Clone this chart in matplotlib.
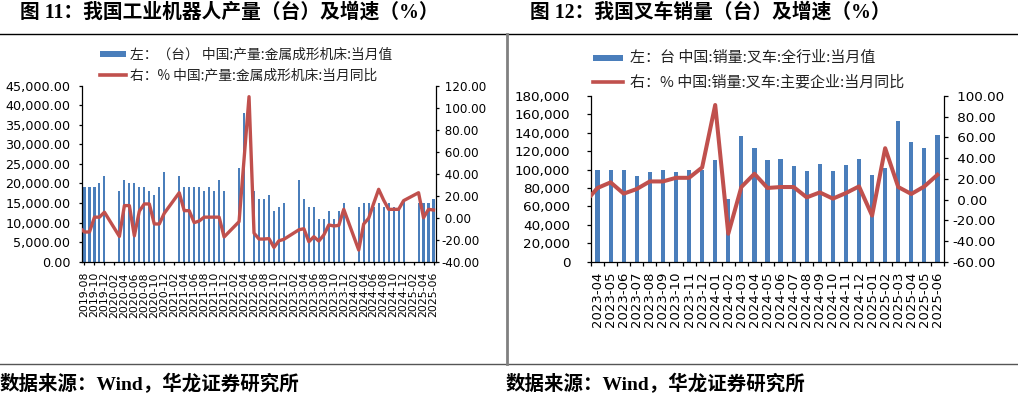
import matplotlib
matplotlib.use("Agg")
import matplotlib.pyplot as plt
import numpy as np
import pandas as pd
from matplotlib.lines import Line2D
from matplotlib.patches import Rectangle
from matplotlib.ticker import FuncFormatter

plt.rcParams['font.family'] = ['DejaVu Sans', 'Noto Sans CJK SC']
plt.rcParams['axes.unicode_minus'] = False

nan = np.nan

# ---- 图 11: metal forming machine tools, 2019-08 .. 2025-06
forming_months = [str(p) for p in pd.period_range("2019-08", "2025-06", freq="M")]
forming_units = [
    19000, 19000, 19000, 20000, 22000,
    nan, nan, 18000, 21000, 20000, 20000, 19000, 19000, 18000, 17000, 19000, 23000,
    nan, nan, 22000, 19000, 19000, 19000, 19000, 18000, 19000, 18000, 21000, 18000,
    nan, nan, 24000, 38000, nan, 18000, 16000, 16000, 17000, 13000, 14000, 15000,
    nan, nan, 21000, 16000, 14000, 14000, 11000, 11000, 13000, 11000, 13000, 15000,
    nan, nan, 14000, 15000, 15000, 14000, 15000, 14000, 15000, 14000, 14000, 16000,
    nan, nan, 15000, 15000, 15000, 16000,
]
# YoY series starts one month earlier (2019-07); that point sits outside the axis
forming_yoy = [
    -9, -13, -13, 0.5, 0.5, 5,
    nan, nan, -17, 11, 11, -16.5, 6, 12.5, 12.5, -5.7, -5.7, 4,
    nan, nan, 22.7, 6.4, 6.4, -4.5, -3, 0.5, 0.5, 0.5, 0.5, -17.5,
    nan, nan, -3.6, 53, 110, -14, -19.4, -19.4, -19, -27, -21, -19.6,
    nan, nan, -11, -10, -21.8, -17.3, -21.2, -15.7, -6.6, -7.5, -7, 7.6,
    nan, nan, -29.4, -5.7, -0.5, 13, 25.8, 16, 7.6, 7.6, 7.6, 15.5,
    nan, nan, 22.7, 0, 7.6, 7,
]

# ---- 图 12: forklift sales, 2023-04 .. 2025-06
forklift_months = [str(p) for p in pd.period_range("2023-04", "2025-06", freq="M")]
forklift_sales = [
    100000, 100000, 100000, 92700, 97700, 100000, 97700, 100000, 100000,
    110800, 68000, 136800, 123800, 110400, 111500, 103900, 98800, 106100,
    98800, 105000, 111500, 93800, 101400, 152800, 130300, 123500, 137600,
]
# YoY series starts at 2023-03 (clipped by the axis)
forklift_yoy = [
    -3.2, 11.2, 16.6, 5.7, 10.2, 17.5, 17.5, 21, 21, 31,
    91.3, -33, 12.1, 24.9, 11.2, 12.1, 12.1, 2.1, 6.9, 0.9,
    6.3, 12.7, -15.5, 49.6, 12.1, 5.4, 12.7, 23.9,
]

BLUE = "#4A7EBB"
RED = "#C0504D"
CJK = ['Noto Sans CJK SC', 'DejaVu Sans']
TITLE_FONT = ['Liberation Serif', 'Noto Sans CJK SC']

W, H = 1018, 396
fig = plt.figure(figsize=(W / 100, H / 100), dpi=100)


def px_axes(x0, y0, x1, y1):
    return fig.add_axes([x0 / W, 1 - y1 / H, (x1 - x0) / W, (y1 - y0) / H])


def fx(x):
    return x / W


def fy(y):
    return 1 - y / H


def signed_fmt(v, _pos=None):
    s = f"{v:.2f}"
    return s if v < 0 else " " + s


def style_pair(ax, axr):
    for side in ("top", "right"):
        ax.spines[side].set_visible(False)
    for side in ("top", "left", "bottom"):
        axr.spines[side].set_visible(False)
    for a in (ax, axr):
        for sp in a.spines.values():
            sp.set_linewidth(0.9)
            sp.set_color("black")


def legend_block(x_handle, x_text, y_bar, y_line, label_bar, label_line, size, hw):
    fig.add_artist(Rectangle((fx(x_handle), fy(y_bar + 3)), hw / W, 6 / H,
                             transform=fig.transFigure, color=BLUE, lw=0))
    fig.add_artist(Line2D([fx(x_handle), fx(x_handle + hw)], [fy(y_line)] * 2,
                          transform=fig.transFigure, color=RED, lw=2.6))
    fig.text(fx(x_text), fy(y_bar), label_bar, va="center", ha="left",
             fontsize=size, family=CJK, color="#222222")
    fig.text(fx(x_text), fy(y_line), label_line, va="center", ha="left",
             fontsize=size, family=CJK, color="#222222")


# ================= left chart =================
ax1 = px_axes(82, 85.7, 436, 261.7)
x1 = np.arange(len(forming_months))
ax1.bar(x1, forming_units, width=0.42, color=BLUE, zorder=2)
ax1.set_xlim(-0.5, len(forming_months) - 0.5)
ax1.set_ylim(0, 45000)
ax1.set_yticks(np.arange(0, 45001, 5000))
ax1.yaxis.set_major_formatter(FuncFormatter(lambda v, p: f"{v:,.2f}"))
ax1.tick_params(axis="y", direction="out", length=2.5, width=0.9, pad=6, labelsize=9.2)
ax1.set_xticks(x1[::2])
ax1.set_xticklabels(forming_months[::2], rotation=90, fontsize=7.8)
ax1.tick_params(axis="x", direction="out", length=2.5, width=0.9, pad=5)

ax1r = ax1.twinx()
yoy1 = np.array(forming_yoy, dtype=float)
xl1 = np.arange(-1, len(forming_months))
ok = ~np.isnan(yoy1)
ax1r.plot(xl1[ok], yoy1[ok], color=RED, lw=2.4, solid_joinstyle="round", zorder=3)
ax1r.set_ylim(-40, 120)
ax1r.set_yticks(np.arange(-40, 121, 20))
ax1r.yaxis.set_major_formatter(FuncFormatter(signed_fmt))
ax1r.tick_params(axis="y", direction="out", length=2.5, width=0.9, pad=1.2, labelsize=8.6)
style_pair(ax1, ax1r)

legend_block(100, 130, 54, 75,
             "左：（台） 中国:产量:金属成形机床:当月值",
             "右：% 中国:产量:金属成形机床:当月同比", 9.9, 26)

# ================= right chart =================
ax2 = px_axes(591, 96, 944, 261.7)
x2 = np.arange(len(forklift_months))
ax2.bar(x2, forklift_sales, width=0.32, color=BLUE, zorder=2)
ax2.set_xlim(-0.5, len(forklift_months) - 0.5)
ax2.set_ylim(0, 180000)
ax2.set_yticks(np.arange(0, 180001, 20000))
ax2.yaxis.set_major_formatter(FuncFormatter(lambda v, p: f"{v:,.0f}"))
ax2.tick_params(axis="y", direction="out", length=3, width=0.9, pad=12, labelsize=9.7)
ax2.set_xticks(x2)
ax2.set_xticklabels(forklift_months, rotation=90, fontsize=9.5)
ax2.set_xticks(np.arange(-0.5, len(forklift_months)), minor=True)
ax2.tick_params(axis="x", which="major", length=0, pad=7)
ax2.tick_params(axis="x", which="minor", direction="out", length=3, width=0.9)

ax2r = ax2.twinx()
yoy2 = np.array(forklift_yoy, dtype=float)
xl2 = np.arange(-1, len(forklift_months))
ax2r.plot(xl2, yoy2, color=RED, lw=2.9, solid_joinstyle="round", zorder=3)
ax2r.set_ylim(-60, 100)
ax2r.set_yticks(np.arange(-60, 101, 20))
ax2r.yaxis.set_major_formatter(FuncFormatter(signed_fmt))
ax2r.tick_params(axis="y", direction="out", length=3, width=0.9, pad=3.2, labelsize=9.7)
style_pair(ax2, ax2r)

legend_block(593, 630, 58, 82,
             "左：台 中国:销量:叉车:全行业:当月值",
             "右：% 中国:销量:叉车:主要企业:当月同比", 10.8, 30)

# ================= frame, titles, sources =================
fig.add_artist(Line2D([0, 1], [fy(34)] * 2, transform=fig.transFigure, color="black", lw=1.0))
fig.add_artist(Line2D([0, 1], [fy(364)] * 2, transform=fig.transFigure, color="#555555", lw=1.0))
fig.add_artist(Line2D([fx(506.5)] * 2, [fy(34), fy(364)], transform=fig.transFigure,
                      color="#808080", lw=2.0))

fig.text(fx(20), fy(13), "图 11：我国工业机器人产量（台）及增速（%）", va="center", ha="left",
         fontsize=14.2, fontweight="bold", family=TITLE_FONT)
fig.text(fx(530), fy(13), "图 12：我国叉车销量（台）及增速（%）", va="center", ha="left",
         fontsize=14.2, fontweight="bold", family=TITLE_FONT)

for xs in (0, 506):
    fig.text(fx(xs), fy(384), "数据来源：Wind，华龙证券研究所", va="center", ha="left",
             fontsize=14, fontweight="bold", family=TITLE_FONT)

fig.savefig("out.png", dpi=100)
